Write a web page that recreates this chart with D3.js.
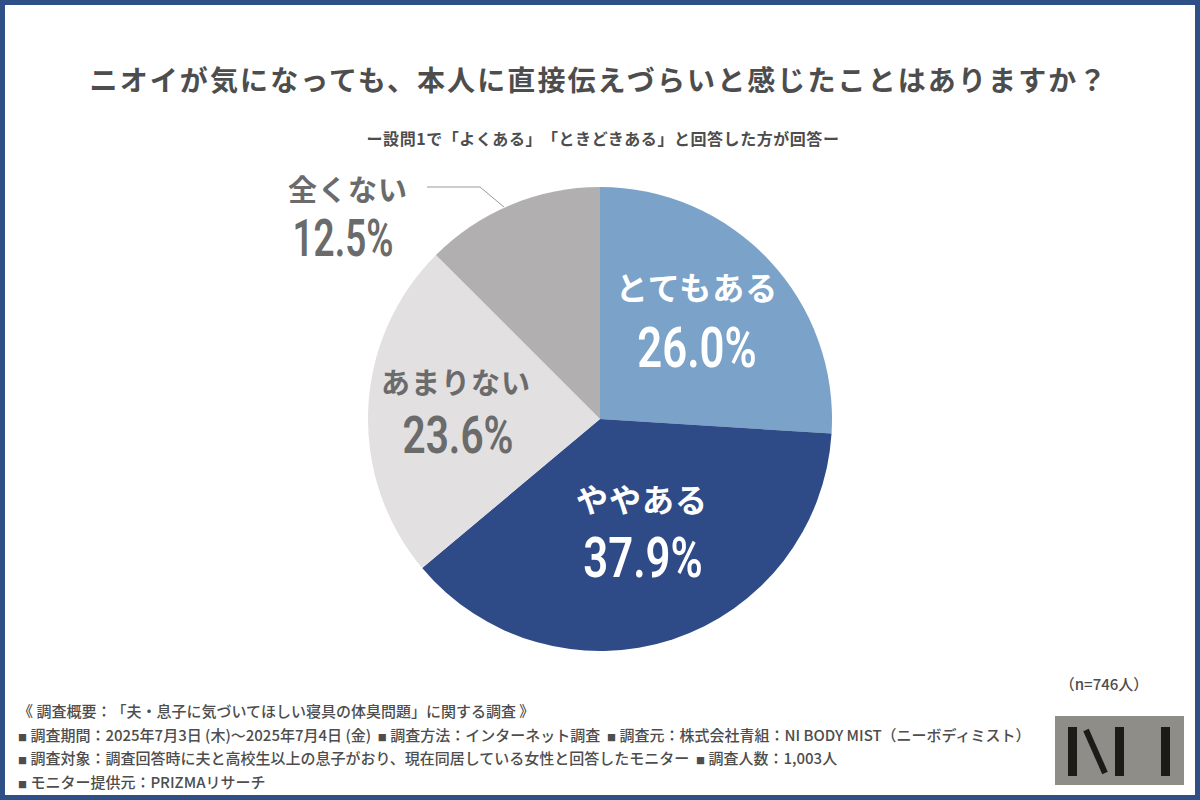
<!DOCTYPE html>
<html lang="ja">
<head>
  <meta charset="UTF-8">
  <title>ニオイ 調査</title>
  <style>
    html, body { margin: 0; padding: 0; background: #fff; }
    svg text { font-family: "Noto Sans CJK JP", sans-serif; text-spacing-trim: space-all; white-space: pre; }
    .pct { font-family: "Roboto", sans-serif !important; font-weight: 600; }
  </style>
</head>
<body>
  <svg id="svg" width="1200" height="800"></svg>

  <script src="https://d3js.org/d3.v7.min.js"></script>
  <script>
    // ------ DATA ------------------------
    const categories = ['とてもある', 'ややある', 'あまりない', '全くない']
    const values = [26.0, 37.9, 23.6, 12.5]

    const titleText = 'ニオイが気になっても、本人に直接伝えづらいと感じたことはありますか？'
    const subtitleText = 'ー設問1で「よくある」「ときどきある」と回答した方が回答ー'
    const sampleText = '（n=746人）'
    const noteLines = [
      '《 調査概要：「夫・息子に気づいてほしい寝具の体臭問題」に関する調査 》',
      '■ 調査期間：2025年7月3日 (木)～2025年7月4日 (金)  ■ 調査方法：インターネット調査  ■ 調査元：株式会社青組：NI BODY MIST（ニーボディミスト）',
      '■ 調査対象：調査回答時に夫と高校生以上の息子がおり、現在同居している女性と回答したモニター  ■ 調査人数：1,003人',
      '■ モニター提供元：PRIZMAリサーチ'
    ]

    // CONSTANTS
    const cx = 600, cy = 419, radius = 232
    const sliceColors = ['#7ba2c9', '#2f4b87', '#e2e0e1', '#b1afb0']
    const labelColors = ['#fff', '#fff', '#6b6b6b', '#6b6b6b']
    // label baselines relative to the pie centre
    const labelPos = [[97, -119], [42, 93], [-144, -25], [-252, -218]]
    const labelSize = [32, 32, 29, 29]
    const pctPos = [[97, -52], [43, 158], [-142, 34], [-257, -163]]
    const pctSize = [56, 56, 52, 52]
    const pctSqueeze = [0.78, 0.78, 0.78, 0.71]

    const svg = d3.select('#svg')

    // frame
    svg.append('rect')
      .attr('x', 2.5).attr('y', 2.5)
      .attr('width', 1195).attr('height', 795)
      .attr('fill', '#fff')
      .attr('stroke', '#2f4f87')
      .attr('stroke-width', 5)

    svg.append('text')
      .attr('x', 599).attr('y', 91)
      .attr('text-anchor', 'middle')
      .attr('font-size', 28)
      .attr('font-weight', 700)
      .attr('letter-spacing', 2.1)
      .attr('fill', '#4d4d4d')
      .text(titleText)

    svg.append('text')
      .attr('x', 603).attr('y', 145)
      .attr('text-anchor', 'middle')
      .attr('font-size', 16)
      .attr('font-weight', 700)
      .attr('letter-spacing', 0.55)
      .attr('fill', '#4d4d4d')
      .text(subtitleText)

    // ------ PIE ------------------------
    const pie = d3.pie().sort(null).value(d => d)
    const arc = d3.arc().innerRadius(0).outerRadius(radius)
    const g = svg.append('g').attr('transform', `translate(${cx}, ${cy})`)

    g.selectAll('path')
      .data(pie(values))
      .join('path')
      .attr('d', arc)
      .attr('fill', (d, i) => sliceColors[i])

    // leader line for the small slice
    svg.append('path')
      .attr('d', d3.line()([[427, 187], [480, 187], [504, 207]]))
      .attr('fill', 'none')
      .attr('stroke', '#9a9a9a')
      .attr('stroke-width', 1)

    g.selectAll('text.cat')
      .data(categories)
      .join('text')
      .attr('class', 'cat')
      .attr('x', (d, i) => labelPos[i][0])
      .attr('y', (d, i) => labelPos[i][1])
      .attr('text-anchor', 'middle')
      .attr('font-size', (d, i) => labelSize[i])
      .attr('font-weight', 700)
      .attr('letter-spacing', 1)
      .attr('fill', (d, i) => labelColors[i])
      .text(d => d)

    // percentages are squeezed horizontally, the original uses a condensed face
    g.selectAll('text.pct')
      .data(values)
      .join('text')
      .attr('class', 'pct')
      .attr('transform', (d, i) => `translate(${pctPos[i][0]}, ${pctPos[i][1]}) scale(${pctSqueeze[i]}, 1)`)
      .attr('text-anchor', 'middle')
      .attr('font-size', (d, i) => pctSize[i])
      .attr('fill', (d, i) => labelColors[i])
      .text(d => d3.format('.1f')(d) + '%')

    // ------ FOOTER ------------------------
    svg.append('text')
      .attr('x', 1104).attr('y', 690)
      .attr('text-anchor', 'middle')
      .attr('font-size', 15)
      .attr('font-weight', 500)
      .attr('fill', '#4d4d4d')
      .text(sampleText)

    // the square bullets are much smaller than the text around them
    svg.selectAll('text.note')
      .data(noteLines)
      .join('text')
      .attr('class', 'note')
      .attr('x', 18)
      .attr('y', (d, i) => 717 + i * 23.5)
      .attr('font-size', 15)
      .attr('font-weight', 500)
      .attr('fill', '#4d4d4d')
      .each(function (d) {
        const t = d3.select(this)
        d.split(/(■)/).filter(s => s).forEach(part => {
          t.append('tspan')
            .attr('font-size', part === '■' ? 9 : 15)
            .attr('dy', 0)
            .text(part)
        })
      })

    // logo
    const logo = svg.append('g')
    logo.append('rect')
      .attr('x', 1055).attr('y', 716)
      .attr('width', 129).attr('height', 69)
      .attr('fill', '#8f8d88')
    logo.selectAll('rect.bar')
      .data([1068, 1115, 1161])
      .join('rect')
      .attr('class', 'bar')
      .attr('x', d => d).attr('y', 727)
      .attr('width', 9).attr('height', 49)
      .attr('fill', '#1d1b18')
    logo.append('line')
      .attr('x1', 1086).attr('y1', 730)
      .attr('x2', 1105).attr('y2', 773)
      .attr('stroke', '#1d1b18')
      .attr('stroke-width', 6)
  </script>
</body>
</html>
